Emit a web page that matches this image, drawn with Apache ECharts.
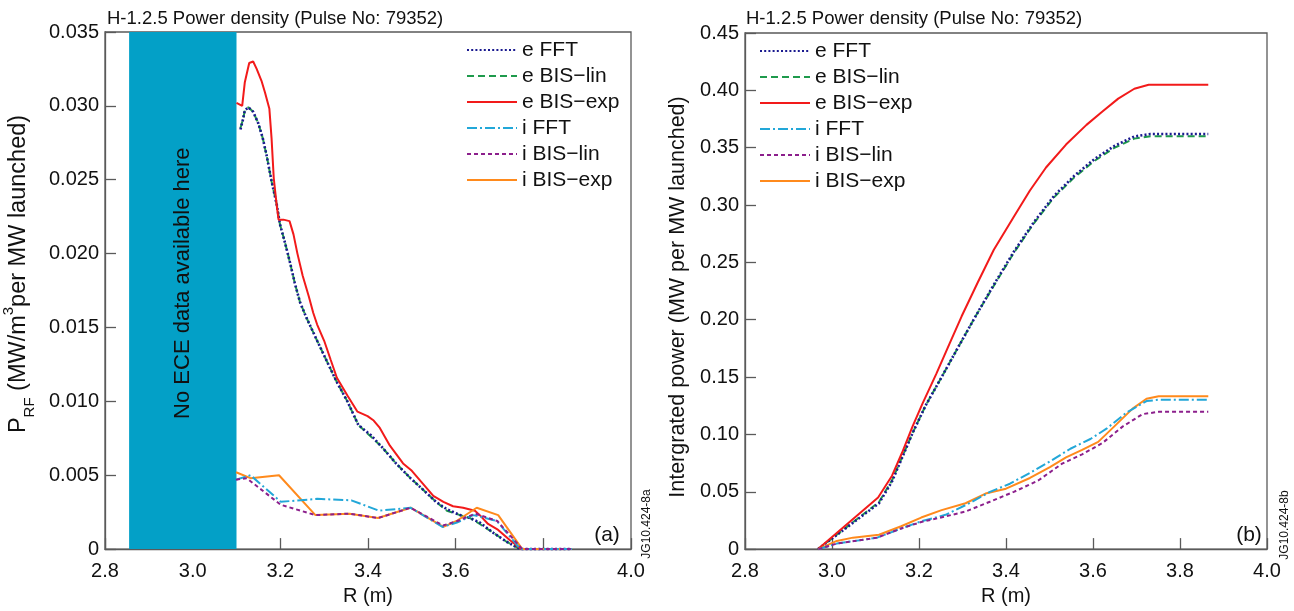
<!DOCTYPE html>
<html>
<head>
<meta charset="utf-8">
<script src="https://cdn.jsdelivr.net/npm/echarts@6/dist/echarts.min.js"></script>
<style>html,body{margin:0;padding:0;background:#fff;}#c{width:1294px;height:611px;}</style>
</head>
<body>
<div id="c"></div>
<script>
// ---------- data ----------
const seriesNames = ['e FFT', 'e BIS\u2212lin', 'e BIS\u2212exp', 'i FFT', 'i BIS\u2212lin', 'i BIS\u2212exp'];
const xTicksLeftHidden = [3.8];
const bandRange = [2.855, 3.10];
const bandText = 'No ECE data available here';
const titleText = 'H-1.2.5 Power density (Pulse No: 79352)';

// (a) power density [R (m), P_RF]
const densEFFT = [[3.109,0.0284],[3.115,0.0291],[3.119,0.0297],[3.127,0.0299],[3.138,0.0296],[3.150,0.0288],[3.160,0.0278],[3.169,0.0266],[3.180,0.0249],[3.192,0.0233],[3.199,0.0220],[3.211,0.0207],[3.222,0.0194],[3.233,0.0180],[3.245,0.0167],[3.259,0.0157],[3.284,0.0141],[3.308,0.0126],[3.329,0.0113],[3.353,0.0100],[3.378,0.0084],[3.407,0.0077],[3.432,0.0069],[3.464,0.0058],[3.497,0.0048],[3.530,0.0039],[3.555,0.0032],[3.580,0.0027],[3.610,0.0023],[3.633,0.0021],[3.655,0.0018],[3.686,0.0011],[3.716,0.0005],[3.747,0],[3.865,0]];
const densEBISlin = [[3.109,0.0285],[3.115,0.0291],[3.119,0.0297],[3.127,0.0299],[3.138,0.0296],[3.150,0.0288],[3.160,0.0278],[3.169,0.0266],[3.180,0.0249],[3.192,0.0233],[3.199,0.0220],[3.211,0.0207],[3.222,0.0194],[3.233,0.0180],[3.245,0.0167],[3.259,0.0157],[3.284,0.0141],[3.308,0.0126],[3.329,0.0113],[3.353,0.0100],[3.378,0.0084],[3.407,0.0076],[3.432,0.0069],[3.464,0.0058],[3.497,0.0048],[3.530,0.0039],[3.555,0.0032],[3.580,0.0026],[3.610,0.0023],[3.633,0.0021],[3.655,0.0017],[3.686,0.0011],[3.716,0.0005],[3.747,0],[3.865,0]];
const densEBISexp = [[3.100,0.0302],[3.113,0.0300],[3.119,0.0316],[3.129,0.0329],[3.138,0.0330],[3.146,0.0325],[3.157,0.0317],[3.165,0.0309],[3.175,0.0298],[3.180,0.0278],[3.185,0.0251],[3.192,0.0232],[3.196,0.0223],[3.207,0.0223],[3.221,0.0222],[3.230,0.0213],[3.239,0.0200],[3.251,0.0185],[3.265,0.0171],[3.275,0.0160],[3.284,0.0152],[3.300,0.0141],[3.315,0.0128],[3.329,0.0116],[3.353,0.0104],[3.376,0.0093],[3.399,0.0090],[3.413,0.0087],[3.427,0.0082],[3.450,0.0070],[3.480,0.0058],[3.500,0.0053],[3.526,0.0044],[3.549,0.0036],[3.572,0.0032],[3.594,0.0029],[3.617,0.0028],[3.644,0.0026],[3.655,0.0023],[3.674,0.0017],[3.697,0.0013],[3.724,0.0006],[3.750,0],[3.865,0]];
const densIFFT = [[3.099,0.0047],[3.132,0.0050],[3.201,0.0032],[3.284,0.0034],[3.362,0.0033],[3.425,0.0026],[3.497,0.0028],[3.570,0.0015],[3.603,0.0018],[3.640,0.0023],[3.655,0.0022],[3.694,0.0019],[3.748,0],[3.865,0]];
const densIBISlin = [[3.099,0.0047],[3.123,0.0048],[3.201,0.0030],[3.280,0.0023],[3.358,0.0024],[3.423,0.0021],[3.497,0.0028],[3.571,0.0016],[3.604,0.0019],[3.645,0.0024],[3.695,0.0019],[3.752,0],[3.865,0]];
const densIBISexp = [[3.099,0.0052],[3.132,0.0048],[3.197,0.0050],[3.280,0.0023],[3.358,0.0024],[3.423,0.0021],[3.497,0.0028],[3.572,0.0015],[3.602,0.0019],[3.648,0.0028],[3.697,0.0023],[3.752,0],[3.865,0]];

// (b) integrated power [R (m), MW per MW launched]
const intEFFT = [[2.968,0],[3.108,0.040],[3.138,0.059],[3.185,0.101],[3.215,0.125],[3.252,0.150],[3.290,0.176],[3.330,0.203],[3.372,0.2305],[3.418,0.2593],[3.464,0.2850],[3.511,0.3082],[3.557,0.3255],[3.603,0.3400],[3.649,0.3515],[3.695,0.3598],[3.732,0.3619],[3.865,0.3619]];
const intEBISlin = [[2.968,0],[3.108,0.041],[3.138,0.060],[3.185,0.101],[3.215,0.125],[3.252,0.150],[3.290,0.176],[3.330,0.203],[3.372,0.2297],[3.418,0.2583],[3.464,0.2840],[3.511,0.3069],[3.557,0.3241],[3.603,0.3384],[3.649,0.3499],[3.695,0.3579],[3.732,0.3599],[3.865,0.3599]];
const intEBISexp = [[2.968,0],[3.106,0.045],[3.138,0.064],[3.161,0.084],[3.185,0.1068],[3.208,0.1268],[3.240,0.153],[3.270,0.179],[3.298,0.203],[3.335,0.2325],[3.372,0.2610],[3.418,0.2898],[3.455,0.3127],[3.492,0.3327],[3.538,0.3527],[3.585,0.3699],[3.621,0.3813],[3.658,0.3928],[3.695,0.4014],[3.728,0.4048],[3.742,0.4048],[3.865,0.4048]];
const intIFFT = [[2.969,0],[3.011,0.0048],[3.104,0.0100],[3.159,0.0180],[3.205,0.0242],[3.261,0.0299],[3.316,0.0400],[3.363,0.0499],[3.409,0.0570],[3.455,0.0665],[3.501,0.0765],[3.548,0.0875],[3.594,0.0960],[3.631,0.1050],[3.677,0.1190],[3.723,0.1291],[3.751,0.1302],[3.865,0.1302]];
const intIBISlin = [[2.969,0],[3.011,0.0048],[3.104,0.0100],[3.159,0.0180],[3.205,0.0236],[3.261,0.0285],[3.307,0.0328],[3.363,0.0413],[3.418,0.0499],[3.474,0.0598],[3.529,0.0745],[3.575,0.0826],[3.622,0.0926],[3.668,0.1068],[3.714,0.1177],[3.751,0.1197],[3.865,0.1197]];
const intIBISexp = [[2.969,0],[3.011,0.0071],[3.048,0.0100],[3.108,0.0125],[3.159,0.0199],[3.205,0.0275],[3.252,0.0340],[3.307,0.0400],[3.353,0.0484],[3.400,0.0527],[3.455,0.0620],[3.501,0.0715],[3.538,0.0800],[3.575,0.0865],[3.612,0.0935],[3.649,0.1070],[3.691,0.1225],[3.723,0.1311],[3.751,0.1333],[3.865,0.1333]];

// ---------- styles ----------
const FONT = 'Liberation Sans, Arial, Helvetica, sans-serif';
const FRAME = '#5a5a5a';
const styles = {
  'e FFT':        {color:'#1a1a8f', type:[2,2.2], width:2.6},
  'e BIS\u2212lin': {color:'#1f9a4c', type:[7,4], width:2},
  'e BIS\u2212exp': {color:'#f21a1a', type:'solid', width:2},
  'i FFT':        {color:'#22a7d8', type:[10,3,2,3], width:2},
  'i BIS\u2212lin': {color:'#8c1f8c', type:[4,3], width:2},
  'i BIS\u2212exp': {color:'#ff8a1c', type:'solid', width:2}
};
const dens = {'e FFT':densEFFT,'e BIS\u2212lin':densEBISlin,'e BIS\u2212exp':densEBISexp,'i FFT':densIFFT,'i BIS\u2212lin':densIBISlin,'i BIS\u2212exp':densIBISexp};
const integ = {'e FFT':intEFFT,'e BIS\u2212lin':intEBISlin,'e BIS\u2212exp':intEBISexp,'i FFT':intIFFT,'i BIS\u2212lin':intIBISlin,'i BIS\u2212exp':intIBISexp};
// draw order (navy dotted on top of green dashed)
const drawOrder = ['e BIS\u2212lin','e FFT','e BIS\u2212exp','i BIS\u2212exp','i FFT','i BIS\u2212lin'];

const grids = [
  {left:105, top:32, width:526, height:525, show:true, borderColor:FRAME, borderWidth:1.3, backgroundColor:'transparent'},
  {left:745, top:33, width:522, height:525, show:true, borderColor:FRAME, borderWidth:1.3, backgroundColor:'transparent'}
];

function xAxisCfg(gi, hidden) {
  return {
    type:'value', gridIndex:gi, min:2.8, max:4.0, interval:0.2,
    name:'R (m)', nameLocation:'middle', nameGap:35,
    nameTextStyle:{fontFamily:FONT, fontSize:20, color:'#111'},
    axisLine:{show:true, onZero:false, lineStyle:{color:FRAME, width:1.3}},
    axisTick:{show:true, inside:true, length:11, lineStyle:{color:FRAME, width:1.3}},
    axisLabel:{fontFamily:FONT, fontSize:20, color:'#111', margin:12,
      formatter:v => hidden.some(h => Math.abs(h - v) < 1e-6) ? '' : v.toFixed(1)},
    splitLine:{show:false}
  };
}
function yAxisCfg(gi, max, interval, dec) {
  return {
    type:'value', gridIndex:gi, min:0, max:max, interval:interval,
    axisLine:{show:true, onZero:false, lineStyle:{color:FRAME, width:1.3}},
    axisTick:{show:true, inside:true, length:11, lineStyle:{color:FRAME, width:1.3}},
    axisLabel:{fontFamily:FONT, fontSize:20, color:'#111', margin:6,
      formatter:v => Math.abs(v) < 1e-9 ? '0' : v.toFixed(dec)},
    splitLine:{show:false}
  };
}

const series = [];
// band (drawn first, under the curves)
series.push({
  type:'line', xAxisIndex:0, yAxisIndex:0, data:[], silent:true, z:1,
  markArea:{silent:true, itemStyle:{color:'#03a0c7', opacity:1},
    data:[[{xAxis:bandRange[0]},{xAxis:bandRange[1]}]]}
});
[[0,dens],[1,integ]].forEach(([gi, src]) => {
  drawOrder.forEach(name => {
    const st = styles[name];
    series.push({
      name:name, type:'line', xAxisIndex:gi, yAxisIndex:gi, data:src[name],
      symbol:'none', showSymbol:false, smooth:false, z:3,
      lineStyle:{color:st.color, type:st.type, width:st.width},
      itemStyle:{color:st.color}
    });
  });
});

function legendCfg(left, top) {
  return {
    data:seriesNames, orient:'vertical', left:left, top:top,
    itemWidth:50, itemHeight:14, itemGap:0, selectedMode:false,
    textStyle:{fontFamily:FONT, fontSize:21, color:'#111', lineHeight:26},
    itemStyle:{opacity:0}
  };
}

const txt = (x, y, text, size, extra) => Object.assign({
  type:'text', x:x, y:y, z:100, silent:true,
  style:Object.assign({text:text, fontFamily:FONT, fontSize:size, fill:'#111', textAlign:'center', textVerticalAlign:'middle'}, (extra && extra.style) || {})
}, extra && extra.el || {});

const graphics = [
  txt(107, 19, titleText, 18.5, {style:{textAlign:'left'}}),
  txt(746, 19, titleText, 18.5, {style:{textAlign:'left'}}),
  txt(607, 535, '(a)', 21),
  txt(1249, 535, '(b)', 21),
  txt(647, 524, 'JG10.424-8a', 12, {el:{rotation:Math.PI/2}}),
  txt(1285, 525, 'JG10.424-8b', 12, {el:{rotation:Math.PI/2}}),
  {
    type:'text', x:19, y:274, z:100, rotation:Math.PI/2, silent:true,
    style:{
      text:'{a|P}{b|RF}{a| (MW/m}{c|3}{a|per MW launched)}',
      textAlign:'center', textVerticalAlign:'middle', fill:'#111',
      rich:{
        a:{fontFamily:FONT, fontSize:23.5, lineHeight:36, verticalAlign:'middle', fill:'#111'},
        b:{fontFamily:FONT, fontSize:15, verticalAlign:'bottom', fill:'#111'},
        c:{fontFamily:FONT, fontSize:15, lineHeight:25, verticalAlign:'top', fill:'#111'}
      }
    }
  },
  txt(678, 297, 'Intergrated power (MW per MW launched)', 21.5, {el:{rotation:Math.PI/2}})
];

const chart = echarts.init(document.getElementById('c'), null, {renderer:'canvas'});
chart.setOption({
  animation:false,
  backgroundColor:'#fff',
  grid:grids,
  xAxis:[xAxisCfg(0, xTicksLeftHidden), xAxisCfg(1, [])],
  yAxis:[yAxisCfg(0, 0.035, 0.005, 3), yAxisCfg(1, 0.45, 0.05, 2)],
  legend:[legendCfg(461, 32), legendCfg(754, 33)],
  series:series
});
// band caption placed at the band's centre via the axis scales
const bandMid = chart.convertToPixel({gridIndex:0}, [(bandRange[0] + bandRange[1]) / 2, 0.0180]);
graphics.push(txt(bandMid[0], bandMid[1], bandText, 22, {el:{rotation:Math.PI/2}}));
chart.setOption({graphic:{elements:graphics}});
</script>
</body>
</html>
